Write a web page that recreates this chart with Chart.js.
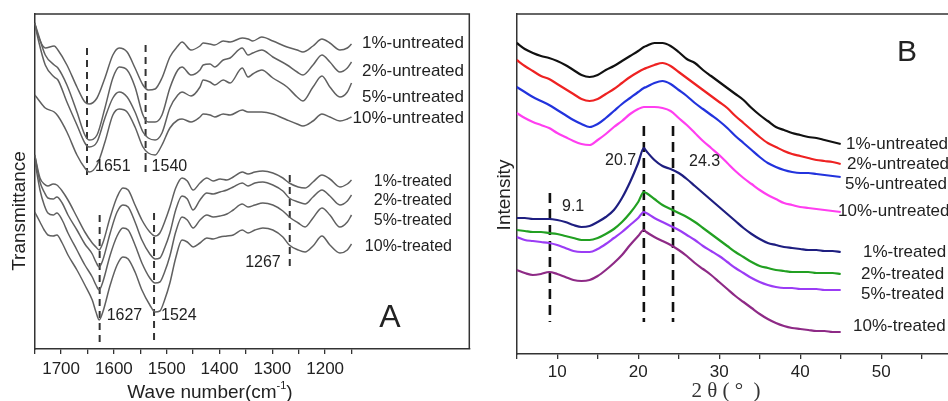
<!DOCTYPE html>
<html><head><meta charset="utf-8">
<script src="https://cdn.jsdelivr.net/npm/chart.js@4"></script>
<style>
html,body{margin:0;padding:0;background:#fff;overflow:hidden}
#wrap{position:relative;width:948px;height:401px}
canvas{position:absolute;top:0}
#ca{left:0}
#cb{left:480px}
</style></head><body>
<div id="wrap"><canvas id="ca" width="480" height="401"></canvas><canvas id="cb" width="468" height="401"></canvas></div>
<script>
// ===== Panel A : FTIR spectra (transmittance, arbitrary units) =====
const wnUntreated = [1750,1744,1730,1713,1706,1689,1670,1655,1647,1632,1617,1602,1590,1575,1560,1545,1535,1522,1509,1494,1479,1471,1454,1437,1431,1418,1409,1393,1380,1357,1346,1337,1320,1299,1272,1253,1242,1223,1206,1191,1172,1158,1150];
const tUntreated1  = [326,314,301,303,299,284,262,247,245,251,271,294,301,297,281,264,259,260,271,292,303,307,299,303,306,305,304,308,307,311,310,308,312,308,302,299,297,303,310,306,299,301,305];
const tUntreated2  = [326,316,294,284,281,264,237,214,209,214,241,271,282,279,262,234,227,227,234,261,279,282,274,279,284,285,282,289,291,301,294,296,299,292,284,277,274,284,294,287,277,281,287];
const tUntreated5  = [326,311,284,272,269,247,224,206,202,207,231,251,257,252,237,217,211,209,216,241,254,257,253,262,269,267,264,269,266,281,272,275,279,271,262,252,248,262,273,262,252,257,266];
const tUntreated10 = [254,250,241,237,233,217,194,181,177,184,207,234,240,237,222,202,196,194,204,221,229,230,227,232,235,234,232,235,234,239,237,237,237,235,229,225,223,228,235,232,228,230,232];

const wnTreated = [1750,1740,1732,1725,1715,1708,1698,1687,1670,1655,1641,1634,1628,1621,1607,1594,1583,1573,1560,1547,1532,1522,1513,1504,1494,1483,1471,1461,1450,1437,1424,1412,1399,1386,1374,1357,1346,1333,1318,1299,1280,1268,1251,1238,1223,1206,1191,1172,1158,1150];
const tTreated1  = [194,171,165,163,165,164,158,149,132,117,106,102,99,106,132,152,161,159,144,129,117,113,116,127,142,161,171,168,159,166,171,168,170,169,172,177,175,177,178,176,171,166,162,161,167,174,170,162,165,169];
const tTreated2  = [194,167,157,151,150,152,146,134,119,105,95,87,82,89,116,137,144,142,127,109,95,90,91,101,116,139,153,150,139,149,156,155,157,159,162,166,163,166,167,164,158,151,147,145,152,159,153,144,148,154];
const tTreated5  = [189,159,144,136,134,136,129,116,99,84,72,64,59,67,94,113,121,119,104,86,71,66,67,77,93,117,132,129,121,129,134,132,133,135,139,145,142,144,146,144,138,132,126,122,131,141,134,122,127,134];
const tTreated10 = [137,127,119,114,113,114,106,94,79,64,49,37,29,37,64,84,92,90,77,59,44,37,38,49,66,91,109,107,102,106,111,110,112,113,114,119,116,119,121,119,112,104,99,97,103,113,104,96,99,105];

const ftirTicks  = [1750,1700,1650,1600,1550,1500,1450,1400,1350,1300,1250,1200,1150];
const ftirLabels = [1700,1600,1500,1400,1300,1200];
const ftirPeaks      = [1651,1540,1627,1524,1267];
const ftirPeakTop    = [301,304,134,136,174];
const ftirPeakBottom = [174,177,7,7,82];
const ftirNamesU = ['1%-untreated','2%-untreated','5%-untreated','10%-untreated'];
const ftirNamesT = ['1%-treated','2%-treated','5%-treated','10%-treated'];

// ===== Panel B : XRD patterns (intensity, arbitrary units) =====
const twoTheta = [5,6,7,8,9,10,11,12,13,14,15,16,17,18,19,20,20.7,21,22,23,24,25,26,27,28,29,30,31,32,33,34,35,36,37,38,39,40,41,42,43,44,45];
const iUntreated1  = [311,305,301,298,296,293,289,284,279,277,279,284,288,293,298,303,307,308,311,311,308,302,295,291,284,278,272,266,260,254,246,239,233,227,224,221,219,217,216,214,212,210];
const iUntreated2  = [294,288,283,278,275,270,265,260,255,253,255,260,265,271,277,282,285,286,289,291,288,282,276,270,264,258,252,246,238,231,224,217,211,207,203,200,198,196,194,193,192,190];
const iUntreated5  = [267,262,257,253,249,244,239,234,230,227,230,236,243,250,256,262,266,267,271,273,270,264,258,251,245,239,233,226,218,211,204,197,191,187,184,182,181,181,180,179,178,177];
const iUntreated10 = [241,236,232,229,226,221,217,213,210,209,214,220,227,233,240,245,247,247,247,246,243,236,229,221,213,206,199,191,183,176,170,164,159,155,151,149,147,146,145,144,143,142];
const iTreated1  = [136,136,135,135,135,134,132,129,127,128,132,137,144,156,172,191,206,203,194,188,185,181,175,168,161,154,147,140,133,126,120,115,111,109,107,106,105,104,104,103,103,102];
const iTreated2  = [124,123,122,122,121,120,118,116,114,114,116,120,125,132,141,152,162,161,155,149,145,141,137,132,126,120,114,108,102,97,92,88,86,84,83,82,82,82,81,81,81,80];
const iTreated5  = [117,114,113,112,111,109,106,103,102,102,105,110,116,122,129,136,142,141,136,132,128,124,119,114,108,103,98,92,86,81,76,72,69,67,66,66,65,65,65,64,64,64];
const iTreated10 = [84,81,79,80,82,80,77,74,73,74,78,84,91,99,109,118,124,122,117,113,109,104,98,91,85,79,72,65,58,52,46,40,35,31,28,26,25,24,23,23,22,22];

const xrdTicks  = [5,10,15,20,25,30,35,40,45,50,55];
const xrdLabels = [10,20,30,40,50];
const xrdPeaks      = [9.1,20.7,24.3];
const xrdPeakTop    = [161,228,228];
const xrdPeakBottom = [32,32,32];
const xrdNames = ['1%-untreated','2%-untreated','5%-untreated','10%-untreated','1%-treated','2%-treated','5%-treated','10%-treated'];
const xrdColors = ['#111111','#ee2222','#2233dd','#ff3ef0','#1e1e80','#22a022','#9b3cf5','#8e2a86'];

// ---------- helpers ----------
const SANS = '"Liberation Sans", Arial, sans-serif';
const pts = (xs, ys) => xs.map((x, i) => ({x, y: ys[i]}));
function lineDS(xs, ys, color, w) {
  return {data: pts(xs, ys), borderColor: color, borderWidth: w, pointRadius: 0,
          cubicInterpolationMode: 'monotone', fill: false};
}
function markerDS(xs, tops, bottoms, color, w, dash) {
  return xs.map((x, i) => ({data: [{x, y: tops[i]}, {x, y: bottoms[i]}], borderColor: color,
    borderWidth: w, borderDash: dash, pointRadius: 0, tension: 0, fill: false}));
}
function text(ctx, s, x, y, size, align, color, family, rot) {
  ctx.save();
  ctx.font = size + 'px ' + (family || SANS);
  ctx.fillStyle = color || '#222';
  ctx.textAlign = align || 'left';
  ctx.textBaseline = 'middle';
  ctx.translate(x, y);
  if (rot) ctx.rotate(rot);
  ctx.fillText(s, 0, 0);
  ctx.restore();
}
const AX = '#333';

// ---------- Chart A ----------
const ftirDatasets = [
  lineDS(wnUntreated, tUntreated1, '#606060', 1.5),
  lineDS(wnUntreated, tUntreated2, '#606060', 1.5),
  lineDS(wnUntreated, tUntreated5, '#606060', 1.5),
  lineDS(wnUntreated, tUntreated10, '#606060', 1.5),
  lineDS(wnTreated, tTreated1, '#606060', 1.5),
  lineDS(wnTreated, tTreated2, '#606060', 1.5),
  lineDS(wnTreated, tTreated5, '#606060', 1.5),
  lineDS(wnTreated, tTreated10, '#606060', 1.5),
  ...markerDS(ftirPeaks, ftirPeakTop, ftirPeakBottom, '#333', 2, [7, 5])
];

const decorA = {
  id: 'decorA',
  afterDraw(chart) {
    const {ctx, chartArea: a} = chart;
    ctx.save();
    ctx.strokeStyle = AX; ctx.lineWidth = 1.5;
    ctx.beginPath(); ctx.moveTo(a.left, a.top); ctx.lineTo(a.right, a.top); ctx.lineTo(a.right, a.bottom); ctx.stroke();
    ctx.restore();
    const uy = [43, 71, 97, 118], ty = [182, 201, 221, 247];
    ftirNamesU.forEach((n, i) => text(ctx, n, 464, uy[i], 17, 'right'));
    ftirNamesT.forEach((n, i) => text(ctx, n, 452, ty[i], 16, 'right'));
    const xs = chart.scales.x;
    const labs = [['1651', 167, 8], ['1540', 167, 6], ['1627', 316, 7], ['1524', 316, 7]];
    [1651, 1540, 1627, 1524].forEach((p, i) => text(ctx, labs[i][0], xs.getPixelForValue(p) + labs[i][2], labs[i][1], 16, 'left'));
    text(ctx, '1267', xs.getPixelForValue(1267) - 9, 263, 16, 'right');
    text(ctx, 'A', 390, 318, 32, 'center');
    text(ctx, 'Transmittance', 20, 211, 19, 'center', '#222', SANS, -Math.PI / 2);
    // x title with superscript
    ctx.save();
    ctx.fillStyle = '#222'; ctx.textBaseline = 'alphabetic';
    ctx.font = '19px ' + SANS; const w1 = ctx.measureText('Wave number(cm').width; const w3 = ctx.measureText(')').width;
    ctx.font = '11px ' + SANS; const w2 = ctx.measureText('-1').width;
    let x0 = 210 - (w1 + w2 + w3) / 2;
    ctx.font = '19px ' + SANS; ctx.fillText('Wave number(cm', x0, 398);
    ctx.font = '11px ' + SANS; ctx.fillText('-1', x0 + w1, 389);
    ctx.font = '19px ' + SANS; ctx.fillText(')', x0 + w1 + w2, 398);
    ctx.restore();
  }
};

new Chart(document.getElementById('ca'), {
  type: 'line',
  data: {datasets: ftirDatasets},
  options: {
    responsive: false, animation: false, devicePixelRatio: 1,
    layout: {padding: {top: 14, right: 10.7, left: 0, bottom: 0}, autoPadding: false},
    plugins: {legend: {display: false}, tooltip: {enabled: false}},
    scales: {
      x: {
        type: 'linear', reverse: true, min: 927, max: 1750,
        afterBuildTicks: s => { s.ticks = ftirTicks.map(v => ({value: v})); },
        afterFit: s => { s.height = 52; },
        ticks: {autoSkip: false, maxRotation: 0, padding: 5, color: '#222', font: {size: 17, family: SANS},
                callback: v => ftirLabels.includes(v) ? String(v) : ''},
        grid: {display: true, drawOnChartArea: false, drawTicks: true, tickLength: 5, color: AX, lineWidth: 1.3},
        border: {display: true, color: AX, width: 1.5}
      },
      y: {
        type: 'linear', min: 0, max: 335,
        afterFit: s => { s.width = 34.7; },
        ticks: {display: false},
        grid: {display: false, drawTicks: false},
        border: {display: true, color: AX, width: 1.5}
      }
    }
  },
  plugins: [decorA]
});

// ---------- Chart B ----------
const xrdSeries = [iUntreated1, iUntreated2, iUntreated5, iUntreated10, iTreated1, iTreated2, iTreated5, iTreated10];
const xrdDatasets = [
  ...xrdSeries.map((s, i) => lineDS(twoTheta, s, xrdColors[i], 2.2)),
  ...markerDS(xrdPeaks, xrdPeakTop, xrdPeakBottom, '#111', 2.6, [10, 6])
];

const decorB = {
  id: 'decorB',
  afterDraw(chart) {
    const {ctx, chartArea: a} = chart;
    const OX = 480;
    ctx.save();
    ctx.strokeStyle = AX; ctx.lineWidth = 1.5;
    ctx.beginPath(); ctx.moveTo(a.left, a.top); ctx.lineTo(a.right, a.top); ctx.stroke();
    ctx.restore();
    const lx = [846, 847, 845, 838, 863, 861, 861, 853];
    const ly = [144, 164, 184, 211, 252, 274, 294, 326];
    xrdNames.forEach((n, i) => text(ctx, n, lx[i] - OX, ly[i], 17, 'left'));
    text(ctx, '20.7', 605 - OX, 161, 16, 'left');
    text(ctx, '24.3', 689 - OX, 162, 16, 'left');
    text(ctx, '9.1', 562 - OX, 207, 16, 'left');
    text(ctx, 'B', 907 - OX, 53, 30, 'center');
    text(ctx, 'Intensity', 505 - OX, 195, 19, 'center', '#222', SANS, -Math.PI / 2);
    ctx.save();
    ctx.font = '21px "Liberation Serif", "DejaVu Serif", serif';
    ctx.fillStyle = '#333'; ctx.textAlign = 'center'; ctx.textBaseline = 'alphabetic';
    ctx.fillText('2 θ ( °  )', 726 - OX, 397);
    ctx.restore();
  }
};

new Chart(document.getElementById('cb'), {
  type: 'line',
  data: {datasets: xrdDatasets},
  options: {
    responsive: false, animation: false, devicePixelRatio: 1,
    layout: {padding: {top: 14, right: 0, left: 0, bottom: 0}, autoPadding: false},
    plugins: {legend: {display: false}, tooltip: {enabled: false}},
    scales: {
      x: {
        type: 'linear', min: 5, max: 58.25,
        afterBuildTicks: s => { s.ticks = xrdTicks.map(v => ({value: v})); },
        afterFit: s => { s.height = 47; },
        ticks: {autoSkip: false, maxRotation: 0, padding: 3, color: '#222', font: {size: 17, family: SANS},
                callback: v => xrdLabels.includes(v) ? String(v) : ''},
        grid: {display: true, drawOnChartArea: false, drawTicks: true, tickLength: 5, color: AX, lineWidth: 1.3},
        border: {display: true, color: AX, width: 1.5}
      },
      y: {
        type: 'linear', min: 0, max: 340,
        afterFit: s => { s.width = 36.7; },
        ticks: {display: false},
        grid: {display: false, drawTicks: false},
        border: {display: true, color: AX, width: 1.5}
      }
    }
  },
  plugins: [decorB]
});
</script>
</body></html>
